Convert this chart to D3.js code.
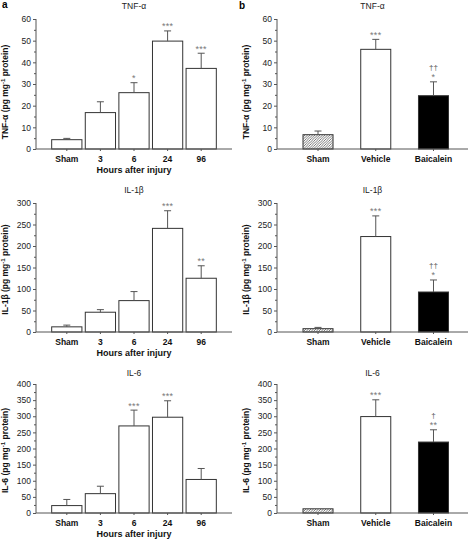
<!DOCTYPE html>
<html><head><meta charset="utf-8">
<script src="https://cdn.jsdelivr.net/npm/d3@7"></script>
<style>
html,body{margin:0;padding:0;background:#fff;}
svg{display:block;font-family:"Liberation Sans",Arial,sans-serif;}
</style></head>
<body>
<svg id="chart" width="474" height="539"></svg>
<script>
// ---- data ----
const timeCats = ["Sham", "3", "6", "24", "96"];
const treatCats = ["Sham", "Vehicle", "Baicalein"];

const tnfTime = [4.3, 16.8, 26, 49.8, 37.2];
const tnfTimeErr = [0.6, 5, 4.6, 4.7, 7];
const tnfTimeSig = ["", "", "*", "***", "***"];

const tnfTreat = [6.6, 46, 24.6];
const tnfTreatErr = [1.7, 4.6, 6.4];
const tnfTreatSig = ["", "***", "*"];
const tnfTreatDag = ["", "", "††"];

const il1Time = [12, 46, 73, 241, 125];
const il1TimeErr = [4, 6, 21, 41, 29];
const il1TimeSig = ["", "", "", "***", "**"];

const il1Treat = [7.7, 222, 93];
const il1TreatErr = [3, 48, 28];
const il1TreatSig = ["", "***", "*"];
const il1TreatDag = ["", "", "††"];

const il6Time = [23, 60, 270, 297, 104];
const il6TimeErr = [19, 23, 49, 51, 34];
const il6TimeSig = ["", "", "***", "***", ""];

const il6Treat = [13, 299, 220];
const il6TreatErr = [0, 52, 38];
const il6TreatSig = ["", "***", "**"];
const il6TreatDag = ["", "", "†"];

const tnfTicks = [0, 10, 20, 30, 40, 50, 60];
const il1Ticks = [0, 50, 100, 150, 200, 250, 300];
const il6Ticks = [0, 50, 100, 150, 200, 250, 300, 350, 400];

// ---- layout ----
const svg = d3.select("#chart");
const defs = svg.append("defs");
defs.append("pattern").attr("id", "hatch").attr("patternUnits", "userSpaceOnUse")
  .attr("width", 2.5).attr("height", 2.5)
  .append("path").attr("d", "M-1,1 l2,-2 M0,2.5 l2.5,-2.5 M1.5,3.5 l2,-2")
  .attr("stroke", "#444").attr("stroke-width", 0.7);

const rows = [
  {y0: 149, y1: 19, titleY: 9, tickLabY: 162, xTitleY: 173, name: "TNF-\u03b1", ticks: tnfTicks, minor: 5},
  {y0: 332, y1: 203, titleY: 193, tickLabY: 345, xTitleY: 356, name: "IL-1\u03b2", ticks: il1Ticks, minor: 25},
  {y0: 513, y1: 384, titleY: 376, tickLabY: 526, xTitleY: 537, name: "IL-6", ticks: il6Ticks, minor: 25}
];
const cols = [
  {ax: 36, axEnd: 232, bandL: 50, bandR: 218, pi: 0.1, po: 0.05, cats: timeCats, labX: 8, showXTitle: true},
  {ax: 277, axEnd: 468, bandL: 303, bandR: 448.5, pi: 0.48, po: 0, cats: treatCats, labX: 249, showXTitle: false}
];
const panelData = [
  [{v: tnfTime, e: tnfTimeErr, s: tnfTimeSig}, {v: tnfTreat, e: tnfTreatErr, s: tnfTreatSig, d: tnfTreatDag}],
  [{v: il1Time, e: il1TimeErr, s: il1TimeSig}, {v: il1Treat, e: il1TreatErr, s: il1TreatSig, d: il1TreatDag}],
  [{v: il6Time, e: il6TimeErr, s: il6TimeSig}, {v: il6Treat, e: il6TreatErr, s: il6TreatSig, d: il6TreatDag}]
];
const axisColor = "#555";
const barStroke = "#333";

rows.forEach((r, ri) => {
  cols.forEach((c, ci) => {
    const pd = panelData[ri][ci];
    const g = svg.append("g");
    const ymax = r.ticks[r.ticks.length - 1];
    const y = d3.scaleLinear().domain([0, ymax]).range([r.y0, r.y1]);
    const x = d3.scaleBand().domain(c.cats).range([c.bandL, c.bandR])
      .paddingInner(c.pi).paddingOuter(c.po);

    // bars
    const fills = ci === 0 ? c.cats.map(() => "#fff") : ["url(#hatch)", "#fff", "#000"];
    g.selectAll("rect.bar").data(c.cats).join("rect")
      .attr("x", d => x(d)).attr("width", x.bandwidth())
      .attr("y", (d, i) => y(pd.v[i])).attr("height", (d, i) => y(0) - y(pd.v[i]))
      .attr("fill", (d, i) => fills[i]).attr("stroke", barStroke).attr("stroke-width", 1);

    // error bars
    const cx = d => x(d) + x.bandwidth() / 2;
    c.cats.forEach((d, i) => {
      if (pd.e[i] <= 0) return;
      const top = y(pd.v[i] + pd.e[i]);
      g.append("line").attr("x1", cx(d)).attr("x2", cx(d))
        .attr("y1", y(pd.v[i])).attr("y2", top).attr("stroke", "#555").attr("stroke-width", 1);
      g.append("line").attr("x1", cx(d) - 3.5).attr("x2", cx(d) + 3.5)
        .attr("y1", top).attr("y2", top).attr("stroke", "#555").attr("stroke-width", 1);
    });

    // significance marks
    c.cats.forEach((d, i) => {
      const top = y(pd.v[i] + pd.e[i]);
      if (pd.s[i]) {
        g.append("text").attr("x", cx(d)).attr("y", top - 1.5)
          .attr("text-anchor", "middle").attr("font-size", 9).attr("letter-spacing", 0.3).attr("fill", "#777")
          .text(pd.s[i]);
      }
      if (pd.d && pd.d[i]) {
        g.append("text").attr("x", cx(d)).attr("y", top - 12)
          .attr("text-anchor", "middle").attr("font-size", 8).attr("fill", "#555")
          .text(pd.d[i]);
      }
    });

    // y axis
    const minorTicks = d3.range(0, ymax + 0.001, r.minor).filter(v => !r.ticks.includes(v));
    const yAx = g.append("g").attr("transform", `translate(${c.ax},0)`)
      .call(d3.axisLeft(y).tickValues(r.ticks).tickSize(3).tickPadding(2).tickFormat(d3.format("d")));
    yAx.selectAll("text").attr("font-size", 8.5).attr("fill", "#222").attr("font-family", "Liberation Sans, Arial, sans-serif");
    yAx.selectAll("line").attr("stroke", axisColor);
    yAx.select(".domain").attr("stroke", axisColor).attr("d", `M0,${r.y0}V${r.y1}`);
    const yMin = g.append("g").attr("transform", `translate(${c.ax},0)`)
      .call(d3.axisLeft(y).tickValues(minorTicks).tickSize(2).tickFormat(""));
    yMin.select(".domain").remove();
    yMin.selectAll("line").attr("stroke", axisColor);

    // x axis
    const xAx = g.append("g").attr("transform", `translate(0,${r.y0})`)
      .call(d3.axisBottom(x).tickSize(2).tickPadding(6));
    xAx.select(".domain").remove();
    xAx.selectAll("line").attr("stroke", axisColor);
    xAx.selectAll("text").remove();
    g.append("line").attr("x1", c.ax).attr("x2", c.axEnd).attr("y1", r.y0).attr("y2", r.y0)
      .attr("stroke", axisColor).attr("stroke-width", 1);
    g.selectAll("text.xl").data(c.cats).join("text").attr("class", "xl")
      .attr("x", d => cx(d)).attr("y", r.tickLabY).attr("text-anchor", "middle")
      .attr("font-size", 8.5).attr("font-weight", "bold").attr("fill", "#111").text(d => d);

    if (c.showXTitle) {
      g.append("text").attr("x", (c.ax + c.axEnd) / 2).attr("y", r.xTitleY)
        .attr("text-anchor", "middle").attr("font-size", 9).attr("font-weight", "bold").attr("fill", "#111")
        .text("Hours after injury");
    }

    // title
    g.append("text").attr("x", (c.ax + c.axEnd) / 2).attr("y", r.titleY)
      .attr("text-anchor", "middle").attr("font-size", 8.5).attr("fill", "#222").text(r.name);

    // y label
    const cy = (r.y0 + r.y1) / 2 + (ri === 0 ? 8 : 2);
    const lab = g.append("text").attr("transform", `translate(${c.labX},${cy}) rotate(-90)`)
      .attr("text-anchor", "middle").attr("font-size", 8.5).attr("font-weight", "bold").attr("fill", "#111");
    lab.append("tspan").text(r.name + " (pg mg");
    lab.append("tspan").attr("font-size", 6).attr("dy", -3).text("-1");
    lab.append("tspan").attr("dy", 3).text(" protein)");
  });
});

// panel letters
svg.append("text").attr("x", 2).attr("y", 8).attr("font-size", 10).attr("font-weight", "bold").text("a");
svg.append("text").attr("x", 239).attr("y", 9).attr("font-size", 10).attr("font-weight", "bold").text("b");
</script>
</body></html>
